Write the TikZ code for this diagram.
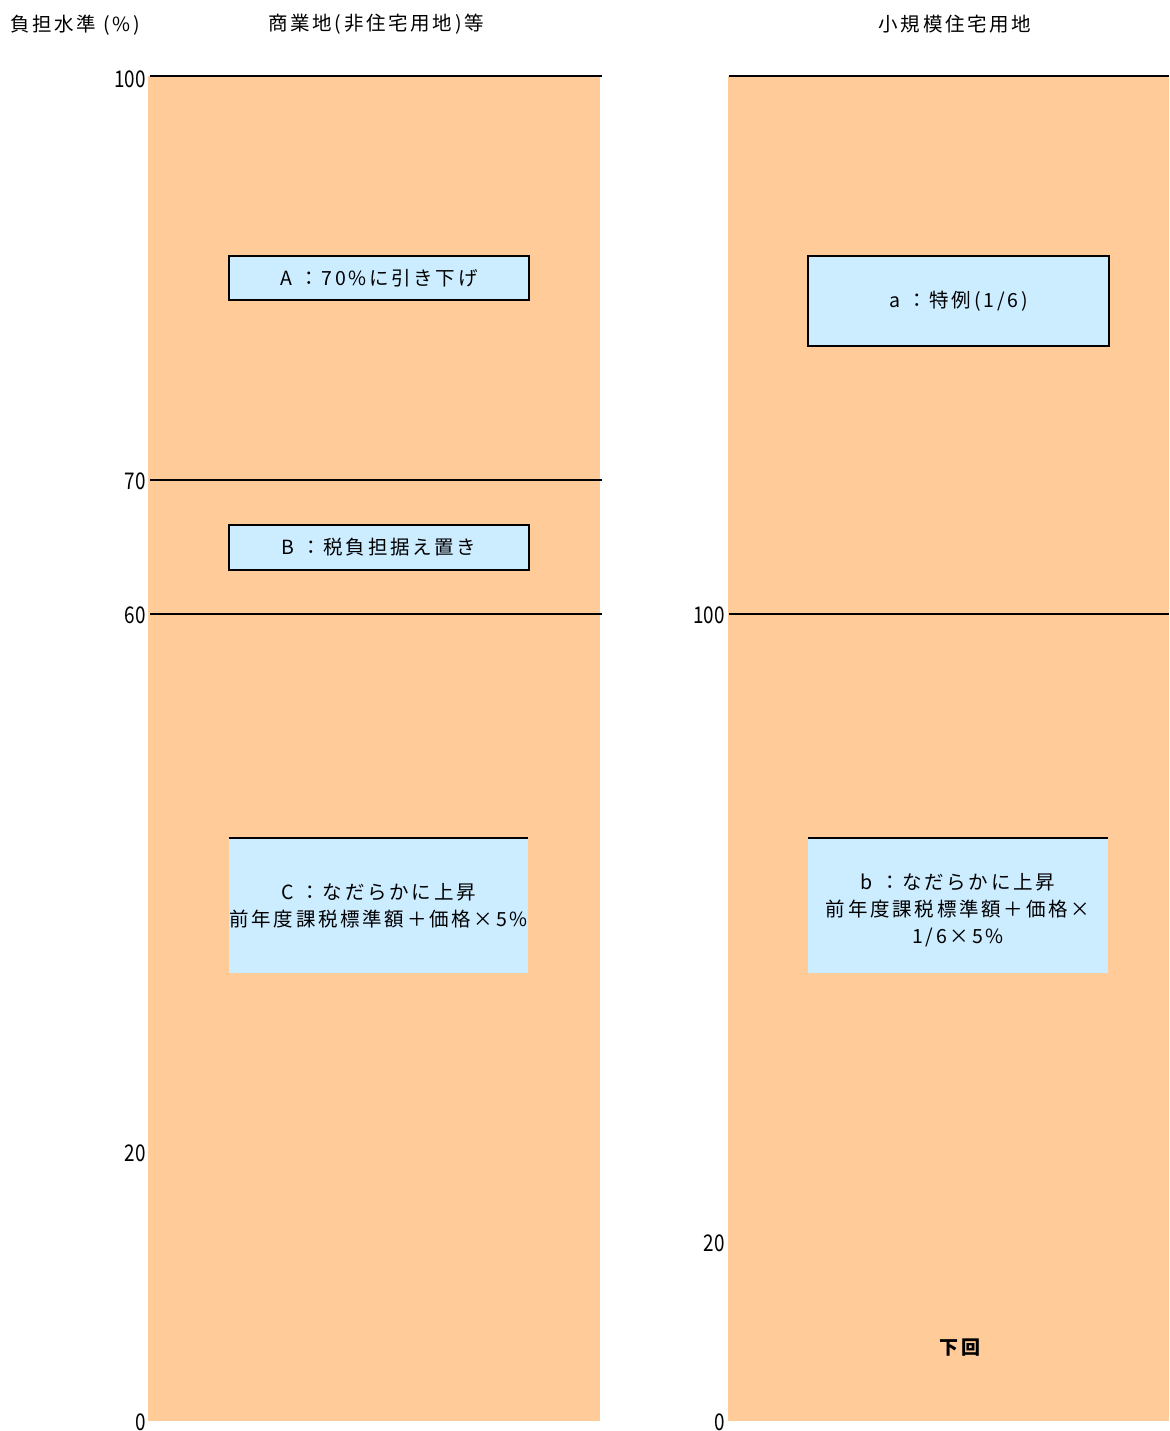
\documentclass[tikz,border=0pt]{standalone}
\usepackage{fontspec}
\setmainfont{Noto Sans CJK JP}
\newfontfamily\jp[LetterSpace=14]{Noto Sans CJK JP}
\newfontfamily\num[FakeStretch=0.82]{Noto Sans CJK JP}
\definecolor{bar}{HTML}{FFCC99}
\definecolor{boxc}{HTML}{CCECFF}
\tikzset{
  barfill/.style={fill=bar, draw=none},
  level/.style={line width=2pt, black},
  tick/.style={anchor=east, inner sep=0pt, font=\num\fontsize{23}{26}\selectfont},
  title/.style={inner sep=0pt, font=\jp\fontsize{19.5}{22}\selectfont},
  framebox/.style={fill=boxc, draw=black, line width=2pt, inner sep=0pt, align=center, font=\jp\fontsize{19.5}{27}\selectfont},
  openbox/.style={fill=boxc, draw=none, inner sep=0pt, align=center, font=\jp\fontsize{19.5}{27}\selectfont},
}
\begin{document}
\begin{tikzpicture}[x=1pt,y=-1pt]
\useasboundingbox (0,0) rectangle (1169,1431);
% bars
\fill[barfill] (148,76) rectangle (600,1421);
\fill[barfill] (728,76) rectangle (1169,1421);
% titles
\node[title, anchor=west] (ttl) at (10,25) {負担水準 (\%)};
\node[title] (tleft) at (376,24) {商業地(非住宅用地)等};
\node[title] (tright) at (955,24) {小規模住宅用地};
% level lines left
\coordinate (l100a) at (150,76);  \coordinate (l100b) at (602,76);
\coordinate (l70a) at (150,480);  \coordinate (l70b) at (602,480);
\coordinate (l60a) at (150,614);  \coordinate (l60b) at (602,614);
\draw[level] (l100a) -- (l100b);
\draw[level] (l70a) -- (l70b);
\draw[level, line width=1.5pt] (l60a) -- (l60b);
% level lines right
\coordinate (r100a) at (729,76);  \coordinate (r100b) at (1169,76);
\coordinate (rmida) at (729,614); \coordinate (rmidb) at (1169,614);
\draw[level] (r100a) -- (r100b);
\draw[level, line width=1.5pt] (rmida) -- (rmidb);
% tick labels left
\node[tick] (n100) at (146,79) {100};
\node[tick] (n70) at (146,481) {70};
\node[tick] (n60) at (146,615) {60};
\node[tick] (n20) at (146,1153) {20};
\node[tick] (n0) at (146,1422) {0};
% tick labels right
\node[tick] (m100) at (725,615) {100};
\node[tick] (m20) at (725,1243) {20};
\node[tick] (m0) at (725,1422) {0};
% boxes left
\node[framebox, minimum width=300pt, minimum height=44pt] (A) at (379,278) {A ：70\%に引き下げ};
\node[framebox, minimum width=300pt, minimum height=45pt] (B) at (379,547.5) {B ：税負担据え置き};
\node[openbox, minimum width=299pt, minimum height=135pt] (C) at (378.5,905.5) {C ：なだらかに上昇\\前年度課税標準額＋価格×5\%};
\draw[level] (C.north west) -- (C.north east);
% boxes right
\node[framebox, minimum width=301pt, minimum height=90pt] (a) at (958.5,301) {a ：特例(1/6)};
\node[openbox, minimum width=300pt, minimum height=135pt] (b) at (958,905.5) {};
\node[openbox, fill=none, anchor=center] (btext) at (958,910.5) {b ：なだらかに上昇\\前年度課税標準額＋価格×\\1/6×5\%};
\draw[level] (b.north west) -- (b.north east);
% note
\node[inner sep=0pt, font=\jp\bfseries\fontsize{19}{22}\selectfont] (low) at (960,1348) {下回};
\end{tikzpicture}
\end{document}
